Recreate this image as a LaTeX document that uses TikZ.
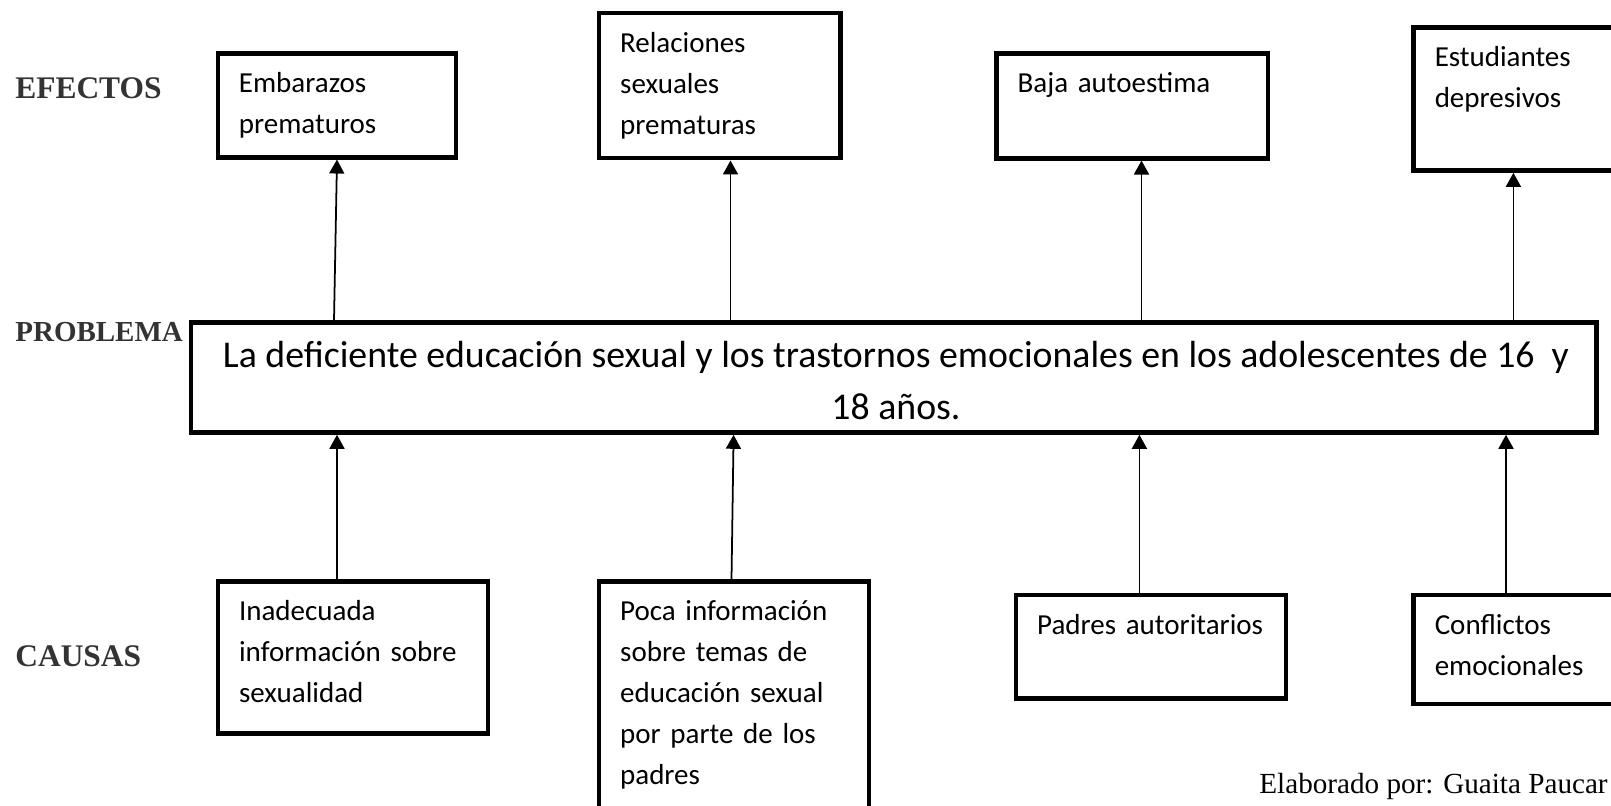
\documentclass[tikz,border=0pt]{standalone}
\usepackage{fontspec}
\setmainfont{Carlito}
\newfontfamily\romana{Liberation Serif}
\usetikzlibrary{arrows.meta}

\tikzset{
  caja/.style={draw, line width=2.5pt, inner sep=0pt},
  texto/.style={anchor=base west, align=left, text width=5.2cm, inner sep=0pt,
    font=\fontsize{16.5}{23.3}\selectfont},
  nivel/.style={anchor=base west, inner sep=0pt, text=black!80,
    font=\romana\bfseries\fontsize{17.9}{20}\selectfont},
  flecha/.style={-{Triangle[length=0.28cm,width=0.30cm]}, line width=1pt},
}

\begin{document}
\begin{tikzpicture}
% canvas: 1 px of the sketch = 0.02cm, y goes down
\path[fill=white, use as bounding box] (0,0) rectangle (32.22,-16.12);

% ---- row labels ----
\node[nivel] (lef) at (0.30,-1.98) {EFECTOS};
\node[nivel, font=\romana\bfseries\fontsize{16.5}{20}\selectfont] (lpr) at (0.30,-6.83) {PROBLEMA};
\node[nivel] (lca) at (0.30,-13.33) {CAUSAS};

% ---- problem ----
\node[caja, minimum width=28.11cm, minimum height=2.2cm] (prob) at (17.876,-7.552) {};
\node[anchor=base, align=flush center, text width=28.4cm, inner sep=0pt,
  font=\fontsize{21.5}{29.3}\selectfont] (tprob) at (17.92,-7.36)
  {La deficiente educación sexual y los trastornos emocionales en los adolescentes de 16\ \ y\\18 años.};

% ---- effects (top row) ----
\node[caja, minimum width=4.77cm, minimum height=2.08cm] (e1) at (6.74,-2.107) {};
\node[caja, minimum width=4.83cm, minimum height=2.90cm] (e2) at (14.395,-1.716) {};
\node[caja, minimum width=5.43cm, minimum height=2.10cm] (e3) at (22.645,-2.117) {};
\node[caja, minimum width=4.49cm, minimum height=2.86cm] (e4) at (30.517,-1.983) {};
\node[texto] (te1) at ([shift={(0.46,-0.83)}]e1.north west) {Embarazos\\prematuros};
\node[texto] (te2) at ([shift={(0.46,-0.83)}]e2.north west) {Relaciones\\sexuales\\prematuras};
\node[texto] (te3) at ([shift={(0.46,-0.83)}]e3.north west) {Baja autoestima};
\node[texto] (te4) at ([shift={(0.46,-0.83)}]e4.north west) {Estudiantes\\depresivos};

% ---- causes (bottom row) ----
\node[caja, minimum width=5.40cm, minimum height=3.04cm] (c1) at (7.058,-13.151) {};
\node[caja, minimum width=5.40cm, minimum height=5.33cm] (c2) at (14.68,-14.295) {};
\node[caja, minimum width=5.40cm, minimum height=2.07cm] (c3) at (23.02,-12.937) {};
\node[caja, minimum width=4.49cm, minimum height=2.18cm] (c4) at (30.517,-12.99) {};
\node[texto] (tc1) at ([shift={(0.46,-0.83)}]c1.north west) {Inadecuada\\información sobre\\sexualidad};
\node[texto] (tc2) at ([shift={(0.46,-0.83)}]c2.north west) {Poca información\\sobre temas de\\educación sexual\\por parte de los\\padres};
\node[texto] (tc3) at ([shift={(0.46,-0.83)}]c3.north west) {Padres autoritarios};
\node[texto] (tc4) at ([shift={(0.46,-0.83)}]c4.north west) {Conflictos\\emocionales};

% ---- arrows: problem -> effects ----
\draw[flecha] ([xshift=-0.06cm]e1.south |- prob.north) -- (e1.south);
\draw[flecha] ([xshift=0.215cm]e2.south |- prob.north) -- ([xshift=0.215cm]e2.south);
\draw[flecha] ([xshift=0.185cm]e3.south |- prob.north) -- ([xshift=0.185cm]e3.south);
\draw[flecha] ([xshift=-0.249cm]e4.south |- prob.north) -- ([xshift=-0.249cm]e4.south);

% ---- arrows: causes -> problem ----
\draw[flecha] ([xshift=-0.318cm]c1.north) -- ([xshift=-0.318cm]c1.north |- prob.south);
\draw[flecha] ([xshift=-0.05cm]c2.north) -- ([xshift=-0.008cm]c2.north |- prob.south);
\draw[flecha] ([xshift=-0.232cm]c3.north) -- ([xshift=-0.232cm]c3.north |- prob.south);
\draw[flecha] ([xshift=-0.397cm]c4.north) -- ([xshift=-0.397cm]c4.north |- prob.south);

% ---- source note ----
\node[anchor=base east, inner sep=0pt, font=\romana\fontsize{16.6}{20}\selectfont] (nota) at (32.16,-15.86) {Elaborado por: Guaita Paucar};
\end{tikzpicture}
\end{document}
